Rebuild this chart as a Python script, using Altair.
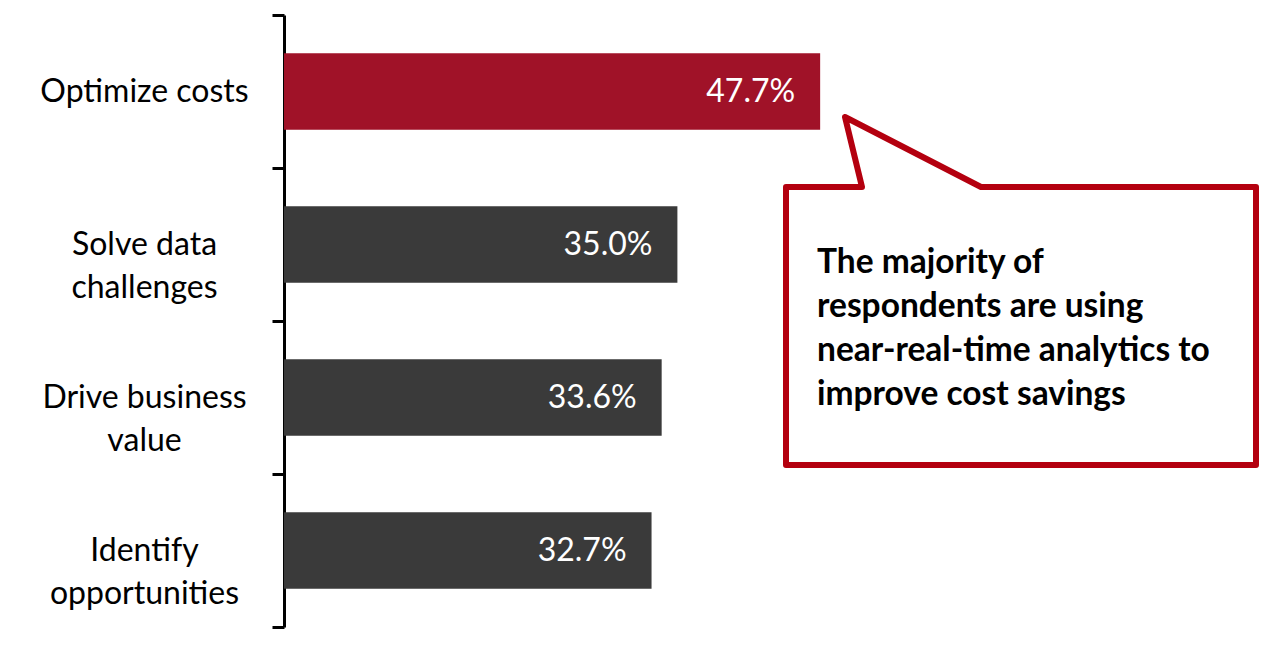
import altair as alt
import pandas as pd

# ---- data ----
categories = ["Optimize costs", "Solve data challenges", "Drive business value", "Identify opportunities"]
label_lines = [["Optimize costs"], ["Solve data", "challenges"], ["Drive business", "value"], ["Identify", "opportunities"]]
values = [47.7, 35.0, 33.6, 32.7]
highlight = ["yes", "no", "no", "no"]

callout_lines = ["The majority of", "respondents are using", "near-real-time analytics to", "improve cost savings"]
# speech-bubble outline (pixels inside the plot area)
bubble_x = [502, 502, 578, 561, 697, 972, 972, 502, 502]
bubble_y = [300, 172, 172, 102, 172, 172, 450, 450, 300]

W, H = 988, 612
FONT = "Lato"

df = pd.DataFrame({
    "cat": ["|".join(l) for l in label_lines],
    "value": values,
    "hl": highlight,
})
order = ["|".join(l) for l in label_lines]

y_enc = alt.Y("cat:N", sort=order,
              scale=alt.Scale(paddingInner=0, paddingOuter=0),
              axis=alt.Axis(title=None, labelExpr="split(datum.label, '|')",
                            labelAlign="center", labelBaseline="middle",
                            labelPadding=128, tickBand="extent", tickSize=12,
                            tickColor="black", tickWidth=3, domainColor="black",
                            domainWidth=3, labelFont=FONT, labelFontSize=32,
                            labelColor="black", labelLineHeight=43, labelLimit=400,
                            grid=False))
x_enc = alt.X("value:Q", scale=alt.Scale(domain=[0, 87.9], nice=False, zero=True), axis=None)

bars = alt.Chart(df).mark_bar(height={"band": 0.5}).encode(
    y=y_enc, x=x_enc,
    color=alt.Color("hl:N", scale=alt.Scale(domain=["yes", "no"], range=["#A01228", "#3A3A3A"]), legend=None),
)
texts = alt.Chart(df).transform_calculate(
    lbl="format(datum.value, '.1f') + '%'"
).mark_text(align="right", baseline="middle", dx=-25, color="white",
            font=FONT, fontSize=32).encode(
    y=alt.Y("cat:N", sort=order), x="value:Q", text="lbl:N",
)

main = alt.layer(bars, texts)

bdf = pd.DataFrame({"bx": bubble_x, "by": bubble_y, "i": list(range(len(bubble_x)))})
bubble = alt.Chart(bdf).mark_line(color="#B4000F", strokeWidth=6, strokeJoin="round").encode(
    x=alt.X("bx:Q", scale=None, axis=None),
    y=alt.Y("by:Q", scale=None, axis=None),
    order="i:Q",
)
note = alt.Chart(pd.DataFrame({"t": [0]})).mark_text(
    align="left", baseline="alphabetic", font=FONT, fontSize=33.5, fontWeight="bold",
    color="black", lineHeight=44,
).encode(x=alt.value(533), y=alt.value(258), text=alt.value(callout_lines))

chart = alt.layer(main, bubble, note).resolve_scale(x="independent", y="independent").properties(
    width=W, height=H,
    background="white",
    autosize=alt.AutoSizeParams(type="none"),
    padding={"left": 284, "top": 15, "right": 0, "bottom": 21},
).configure_view(stroke="transparent", strokeWidth=0).configure_axis(grid=False)

chart.save("out.html", embed_options={"renderer": "svg", "actions": False})
